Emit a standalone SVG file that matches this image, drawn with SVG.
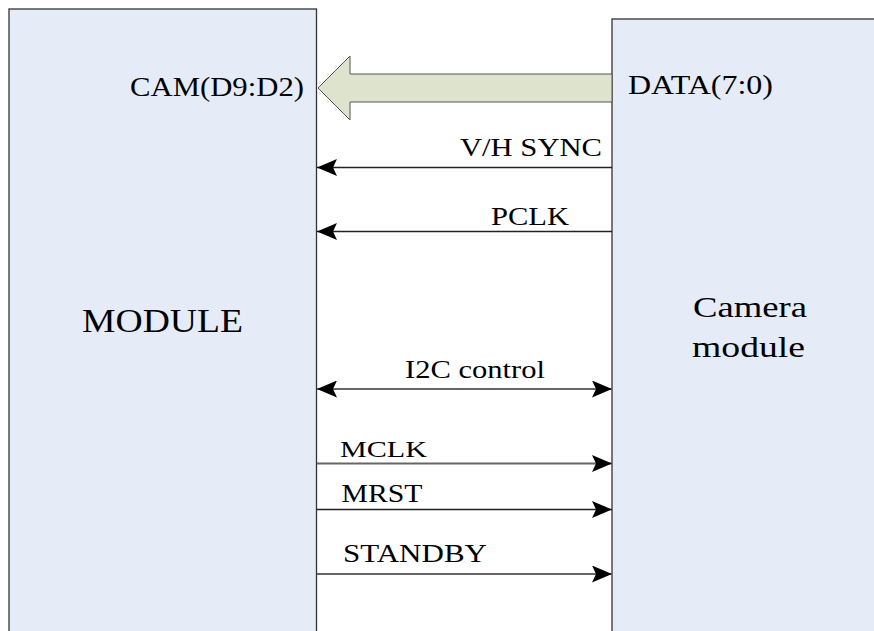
<svg xmlns="http://www.w3.org/2000/svg" width="874" height="631" viewBox="0 0 874 631">
<defs>
<style>
.box{fill:#e6ecf7;stroke:#333;stroke-width:1.3}
text{font-family:"Liberation Serif","Times New Roman",Times,Tinos,"DejaVu Serif","Noto Serif","FreeSerif","Nimbus Roman","Nimbus Roman No9 L",serif;fill:#000}
.ln{stroke:#222;stroke-width:1.5;fill:none}
.lg{stroke:#666;stroke-width:2;fill:none}
</style>
<marker id="ah" viewBox="0 0 20 17" refX="20" refY="8.5" markerWidth="20" markerHeight="17" markerUnits="userSpaceOnUse" orient="auto-start-reverse">
<path d="M0,0 L20,8.5 L0,17 L4,8.5 Z" fill="#000"/>
</marker>
</defs>
<rect width="874" height="631" fill="#fff"/>
<g id="module">
<rect class="box" x="9" y="9" width="307.5" height="630"/>
<text x="82" y="332" font-size="34" textLength="161" lengthAdjust="spacingAndGlyphs">MODULE</text>
<text x="130" y="96" font-size="28" textLength="174" lengthAdjust="spacingAndGlyphs">CAM(D9:D2)</text>
</g>
<g id="camera">
<rect class="box" x="612" y="19" width="270" height="620"/>
<text x="693" y="317" font-size="29" textLength="114" lengthAdjust="spacingAndGlyphs">Camera</text>
<text x="692" y="357" font-size="29" textLength="113" lengthAdjust="spacingAndGlyphs">module</text>
<text x="628" y="94" font-size="27" textLength="145" lengthAdjust="spacingAndGlyphs">DATA(7:0)</text>
</g>
<g id="connectors">
<path d="M612,74 L350,74 L350,56 L318,88 L350,120 L350,102 L612,102 Z" fill="#dde3cc" stroke="#555" stroke-width="1"/>
<line class="ln" x1="612" y1="167.5" x2="317" y2="167.5" marker-end="url(#ah)"/>
<line class="ln" x1="612" y1="231.5" x2="317" y2="231.5" marker-end="url(#ah)"/>
<line class="lg" x1="317" y1="389" x2="612" y2="389" marker-start="url(#ah)" marker-end="url(#ah)"/>
<line class="lg" x1="317" y1="463.5" x2="612" y2="463.5" marker-end="url(#ah)"/>
<line class="ln" x1="317" y1="509.5" x2="612" y2="509.5" marker-end="url(#ah)"/>
<line class="lg" x1="317" y1="574" x2="612" y2="574" marker-end="url(#ah)"/>
<text x="460" y="156" font-size="25" textLength="142" lengthAdjust="spacingAndGlyphs">V/H SYNC</text>
<text x="491" y="225" font-size="25" textLength="78" lengthAdjust="spacingAndGlyphs">PCLK</text>
<text x="405" y="378" font-size="25" textLength="140" lengthAdjust="spacingAndGlyphs">I2C control</text>
<text x="340" y="456.5" font-size="24" textLength="87" lengthAdjust="spacingAndGlyphs">MCLK</text>
<text x="341.5" y="501.5" font-size="25" textLength="81" lengthAdjust="spacingAndGlyphs">MRST</text>
<text x="343" y="561.5" font-size="25" textLength="144" lengthAdjust="spacingAndGlyphs">STANDBY</text>
</g>
</svg>
